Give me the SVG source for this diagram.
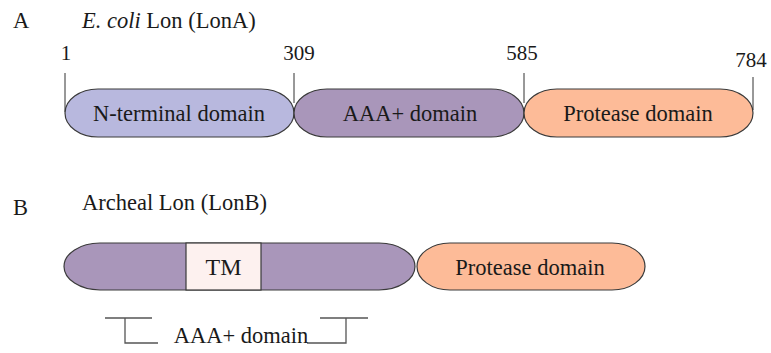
<svg xmlns="http://www.w3.org/2000/svg" width="771" height="353" viewBox="0 0 771 353">
<style>
text{font-family:"Liberation Serif","Times New Roman",serif;fill:#1a1a1a;}
.lbl{font-size:22.5px;text-anchor:middle;}
.num{font-size:21px;text-anchor:middle;}
.hd{font-size:22.5px;}
.dom{stroke:#3a3a3a;stroke-width:1.2;}
.nterm{fill:#b8b8de;}
.aaa{fill:#a996ba;}
.prot{fill:#fdbb98;}
.tm{fill:#fdf1ef;}
.tick{stroke:#333;stroke-width:1;fill:none;}
.brk{stroke:#555;stroke-width:1.3;fill:none;}
</style>
<g id="headings">
<text class="hd" x="13" y="28">A</text>
<text class="hd" x="82" y="28"><tspan font-style="italic">E. coli</tspan> Lon (LonA)</text>
<text class="hd" x="13" y="215">B</text>
<text class="hd" x="82" y="210">Archeal Lon (LonB)</text>
</g>
<g id="positions">
<text class="num" x="66" y="60">1</text>
<text class="num" x="299" y="60">309</text>
<text class="num" x="522" y="60">585</text>
<text class="num" x="751" y="67">784</text>
</g>
<g id="connectors">
<line class="tick" x1="65" y1="73" x2="65" y2="112"/>
<line class="tick" x1="294" y1="73" x2="294" y2="103"/>
<line class="tick" x1="524" y1="73" x2="524" y2="103"/>
<line class="tick" x1="753" y1="77" x2="753" y2="110"/>
<polyline class="brk" points="105,318 152,318"/>
<polyline class="brk" points="125,318 125,343 158,343"/>
<polyline class="brk" points="307,343 346,343 346,318"/>
<polyline class="brk" points="320,318 368,318"/>
</g>
<g id="nterm-A">
<rect class="dom nterm" x="65" y="89" width="229" height="48" rx="33" ry="24"/>
<text class="lbl" x="179" y="121">N-terminal domain</text>
</g>
<g id="aaa-A">
<rect class="dom aaa" x="294" y="89" width="230" height="48" rx="33" ry="24"/>
<text class="lbl" x="410" y="121">AAA+ domain</text>
</g>
<g id="protease-A">
<rect class="dom prot" x="524" y="89" width="229" height="48" rx="33" ry="24"/>
<text class="lbl" x="638" y="121">Protease domain</text>
</g>
<g id="aaa-B">
<rect class="dom aaa" x="64" y="243" width="351" height="47" rx="36" ry="23.5"/>
</g>
<g id="tm-B">
<rect class="dom tm" x="186" y="243" width="75" height="47"/>
<text class="lbl" x="223.5" y="275" style="font-size:24px">TM</text>
</g>
<g id="protease-B">
<rect class="dom prot" x="417" y="243" width="228" height="47" rx="33" ry="23.5"/>
<text class="lbl" x="530" y="275">Protease domain</text>
</g>
<g id="aaa-label-B">
<text class="lbl" x="241" y="343">AAA+ domain</text>
</g>
</svg>
